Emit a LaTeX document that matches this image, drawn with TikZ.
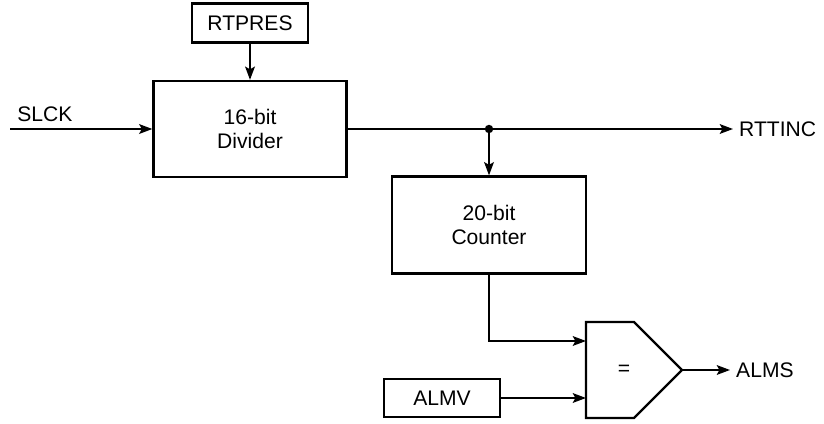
\documentclass[tikz,border=0pt]{standalone}
\usepackage{fontspec}
\setmainfont{Liberation Sans}
\usetikzlibrary{arrows.meta,positioning}

\begin{document}
\begin{tikzpicture}[x=0.02cm, y=-0.02cm, font=\fontsize{12}{14}\selectfont,
    block/.style={rectangle, draw, line width=1.3pt, align=center, inner sep=2pt},
    wire/.style={line width=1.3pt},
    arrow/.style={line width=1.2pt, -{Stealth[length=7.5pt,width=5.5pt,inset=1.5pt]}}]

    \useasboundingbox (0,0) rectangle (824,423);

    \node [block, minimum width=2.32cm, minimum height=0.78cm] (rtpres) at (250,23) {RTPRES};
    \node [block, minimum width=3.86cm, minimum height=1.92cm] (divider) at (250,129) {16-bit\\Divider};
    \node [block, minimum width=3.88cm, minimum height=1.94cm] (counter) at (489,225) {20-bit\\Counter};
    \node [block, minimum width=2.32cm, minimum height=0.76cm] (almv) at (442,398) {ALMV};

    % comparator
    \coordinate (cmpin1) at (586,341);
    \coordinate (cmpin2) at (586,398);
    \coordinate (cmpout) at (682,370);
    \draw [wire] (586,322) -- (634,322) -- (cmpout) -- (634,418) -- (586,418) -- cycle;
    \node (cmp) at (624,370) {=};

    \node [anchor=base west, inner sep=0pt] (slck) at (17,121) {SLCK};
    \node [anchor=west] (rttinc) at (733,129) {RTTINC};
    \node [anchor=west] (alms) at (730,370) {ALMS};
    \coordinate (slckin) at (10,129);
    \coordinate (tap) at (489,129);

    \draw [arrow] (slckin) -- (divider);
    \draw [arrow] (rtpres) -- (divider);
    \draw [arrow] (divider) -- (rttinc);
    \draw [arrow] (tap) -- (counter);
    \fill (tap) circle (2.4pt);
    \draw [arrow] (counter.south) |- (cmpin1);
    \draw [arrow] (almv) -- (cmpin2);
    \draw [arrow] (cmpout) -- (alms);
\end{tikzpicture}
\end{document}
